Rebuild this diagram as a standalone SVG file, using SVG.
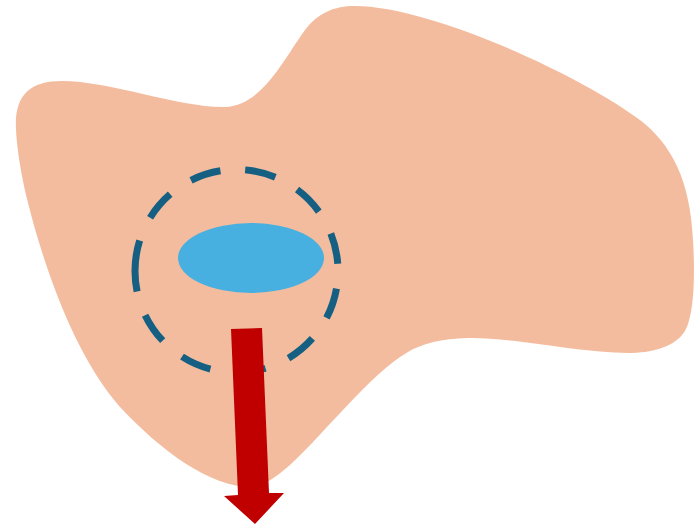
<svg xmlns="http://www.w3.org/2000/svg" width="695" height="527" viewBox="0 0 695 527">
<style>
.blob{fill:#F4BC9E;stroke:none}
.ring{fill:none;stroke:#156082;stroke-width:7;stroke-dasharray:31 25}
.core{fill:#47B0E0}
.arrow{fill:#C00000}
</style>
<rect width="695" height="527" fill="#ffffff"/>
<path class="blob" d="M 16,130 C 14,95 30,81 62,81 C 110,81 180,108 225,107 C 262,105 282,62 305,30 C 318,13 334,6 355,6 C 430,6 580,75 640,120 C 672,145 690,180 693,240 C 696,290 692,325 682,335 C 672,347 652,353 628,353 C 580,353 510,337 468,338 C 440,339 424,343 408,352 C 370,374 326,432 290,465 C 272,481 260,487 250,487 C 210,487 160,450 120,407 C 72,352 42,260 26,195 C 20,168 17,148 16,130 Z"/>
<path class="ring" d="M 135,271 A 101.5,101.5 0 1 1 338,271 A 101.5,101.5 0 1 1 135,271"/>
<ellipse class="core" cx="251" cy="258" rx="73" ry="35"/>
<polygon class="arrow" points="231,329 262,328 269,493 284,493 255,524 224,496 238,495"/>
</svg>
